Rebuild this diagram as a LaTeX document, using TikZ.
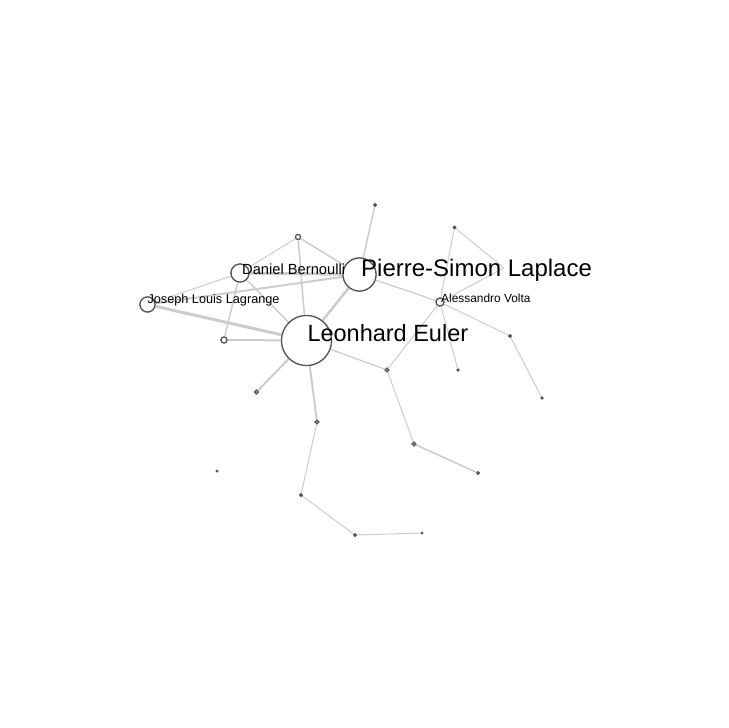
\documentclass[tikz,border=0pt]{standalone}
\usepackage{fontspec}
\setmainfont{Liberation Sans}
\definecolor{edgegray}{HTML}{CCCCCC}
\definecolor{nodegray}{HTML}{555555}
\tikzset{
  vtx/.style={circle, draw=nodegray, fill=white, line width=1.2pt, inner sep=0pt, minimum size=#1},
  dot/.style={circle, draw=nodegray, fill=nodegray, line width=0.6pt, inner sep=0pt, minimum size=#1},
  lnk/.style={draw=edgegray, line width=#1},
  lnk/.default=1pt,
  lbl/.style={anchor=base west, inner sep=0pt, text=black}
}
\begin{document}
\begin{tikzpicture}[x=1pt, y=-1pt]
\useasboundingbox (0,0) rectangle (728,728);
% node positions
\coordinate (pEuler) at (306.5,340.5);
\coordinate (pLaplace) at (359.5,274.5);
\coordinate (pBern) at (240,273);
\coordinate (pLag) at (147.5,304.5);
\coordinate (pVolta) at (440,302);
% nodes
\node[vtx=50pt] (euler) at (pEuler) {};
\node[vtx=33pt] (laplace) at (pLaplace) {};
\node[vtx=18pt] (bern) at (pBern) {};
\node[vtx=15pt] (lag) at (pLag) {};
\node[vtx=8pt] (volta) at (pVolta) {};
\node[vtx=5pt] (a) at (298,237) {};
\node[vtx=6pt] (b) at (224,340) {};
\node[vtx=3.5pt] (c) at (256.5,392) {};
\node[dot=3pt] (d) at (375,205) {};
\node[vtx=3.5pt] (e) at (387,370) {};
\node[vtx=3.5pt] (f) at (317,422) {};
\node[vtx=3.5pt] (g) at (414,444) {};
\node[dot=3pt] (h) at (478,473) {};
\node[dot=3pt] (i) at (301,495) {};
\node[dot=3pt] (j) at (355,535) {};
\node[dot=2pt] (k) at (422,533) {};
\node[dot=2.5pt] (l) at (217,471) {};
\node[dot=3pt] (m) at (454.5,227.5) {};
\node[dot=3pt] (n) at (510,336) {};
\node[dot=2.5pt] (o) at (542,398) {};
\node[dot=2.5pt] (p) at (458,370) {};
\coordinate (q) at (504,268);
% edges
\draw[lnk=1pt] (lag) -- (bern);
\draw[lnk=2pt] (lag) -- (laplace);
\draw[lnk=3pt] (lag) -- (euler);
\draw[lnk=1pt] (bern) -- (a);
\draw[lnk=3pt] (bern) -- (laplace);
\draw[lnk=1.5pt] (bern) -- (euler);
\draw[lnk=1.5pt] (bern) -- (b);
\draw[lnk=1.5pt] (a) -- (laplace);
\draw[lnk=1.5pt] (a) -- (euler);
\draw[lnk=2pt] (b) -- (euler);
\draw[lnk=2.5pt] (laplace) -- (euler);
\draw[lnk=1.5pt] (laplace) -- (d);
\draw[lnk=1.2pt] (laplace) -- (volta);
\draw[lnk=2pt] (euler) -- (c);
\draw[lnk=2pt] (euler) -- (f);
\draw[lnk=1.2pt] (euler) -- (e);
\draw[lnk=1pt] (e) -- (volta);
\draw[lnk=1pt] (e) -- (g);
\draw[lnk=1.5pt] (g) -- (h);
\draw[lnk=1pt] (f) -- (i);
\draw[lnk=1pt] (i) -- (j);
\draw[lnk=1pt] (j) -- (k);
\draw[lnk=1pt] (volta) -- (m);
\draw[lnk=1pt] (m) -- (q);
\draw[lnk=1pt] (q) -- (volta);
\draw[lnk=1pt] (volta) -- (n);
\draw[lnk=1pt] (n) -- (o);
\draw[lnk=1pt] (volta) -- (p);
% redraw nodes on top of edges
\node[vtx=50pt] at (pEuler) {};
\node[vtx=33pt] at (pLaplace) {};
\node[vtx=18pt] at (pBern) {};
\node[vtx=15pt] at (pLag) {};
\node[vtx=8pt] at (pVolta) {};
\node[vtx=5pt] at (a) {};
\node[vtx=6pt] at (b) {};
\node[vtx=3.5pt] at (c) {};
\node[vtx=3.5pt] at (e) {};
\node[vtx=3.5pt] at (f) {};
\node[vtx=3.5pt] at (g) {};
\node[dot=3pt] at (d) {};
\node[dot=3pt] at (h) {};
\node[dot=3pt] at (i) {};
\node[dot=3pt] at (j) {};
\node[dot=2pt] at (k) {};
\node[dot=3pt] at (m) {};
\node[dot=3pt] at (n) {};
\node[dot=2.5pt] at (o) {};
\node[dot=2.5pt] at (p) {};
% labels
\node[lbl, font=\fontsize{23.5}{28}\selectfont] (tEuler) at (307.3,341.5) {Leonhard Euler};
\node[lbl, font=\fontsize{24}{28}\selectfont] (tLaplace) at (361,276) {Pierre-Simon Laplace};
\node[lbl, font=\fontsize{14.7}{18}\selectfont] (tBern) at (242,274) {Daniel Bernoulli};
\node[lbl, font=\fontsize{12.7}{15}\selectfont] (tLag) at (147.3,303.7) {Joseph Louis Lagrange};
\node[lbl, font=\fontsize{11.9}{14}\selectfont] (tVolta) at (441,302) {Alessandro Volta};
\end{tikzpicture}
\end{document}
